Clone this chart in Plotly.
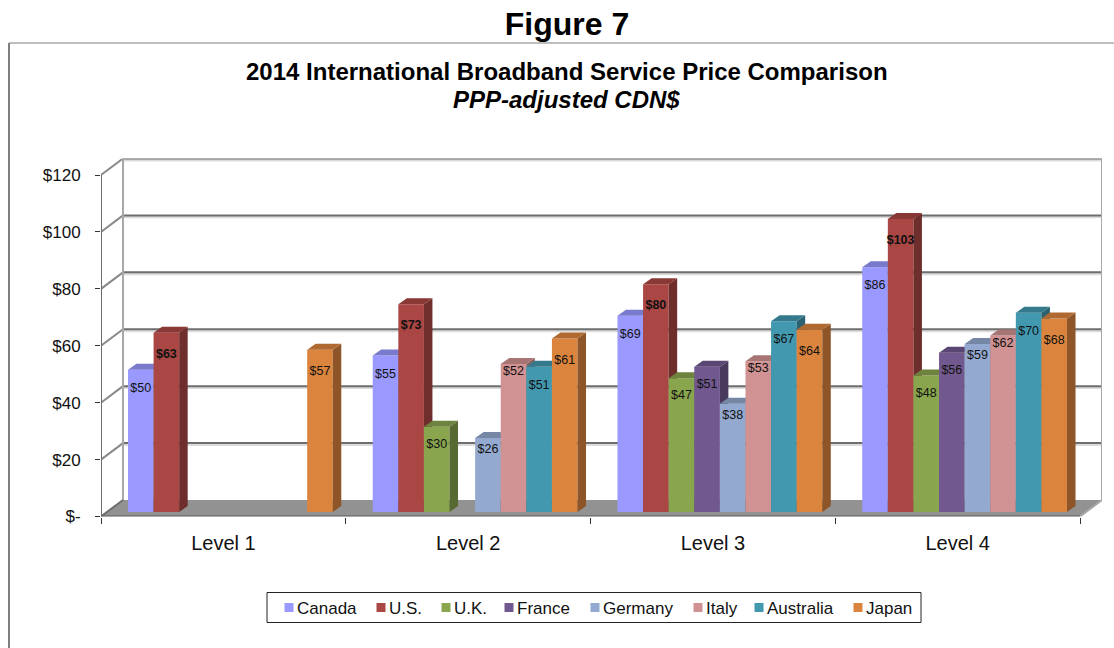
import plotly.graph_objects as go

# ---- data ----
levels = ["Level 1", "Level 2", "Level 3", "Level 4"]
canada = [50, 55, 69, 86]
us = [63, 73, 80, 103]
uk = [None, 30, 47, 48]
france = [None, None, 51, 56]
germany = [None, 26, 38, 59]
italy = [None, 52, 53, 62]
australia = [None, 51, 67, 70]
japan = [57, 61, 64, 68]
series_names = ["Canada", "U.S.", "U.K.", "France", "Germany", "Italy", "Australia", "Japan"]
series_values = [canada, us, uk, france, germany, italy, australia, japan]
y_ticks = [0, 20, 40, 60, 80, 100, 120]
y_labels = ["$-", "$20", "$40", "$60", "$80", "$100", "$120"]

# ---- style ----
front = ["#9999FF", "#AA4643", "#89A54E", "#71588F", "#94A9CF", "#D09292", "#4198AF", "#DB843D"]
top_c = ["#7A7ACC", "#8A3836", "#6E843E", "#5A4672", "#7687A6", "#A87575", "#347A8C", "#B06A31"]
side_c = ["#62629F", "#6E2E2C", "#586A32", "#49395D", "#606E86", "#875F5F", "#2A6272", "#8E5628"]
label_drop = [19, 22, 18, 18, 12, 8, 19, 22]   # px below bar top
legend_marker_px = [289, 381, 446, 509, 595, 698, 759, 858]

W, H = 1114, 648
X0, X1, Y0, Y1 = 101, 1080, 516.5, 175     # front axis box
DX_BACK, DY_BACK = 22, 16.5                # depth of chart box
CAT = (X1 - X0) / 4
UNIT = (Y0 - Y1) / 120
bar_w = 25.6 / CAT
bar_shift = 7 / CAT
bar_base = 4.5 / UNIT
bar_dx = 8.5 / CAT
bar_dy = 6 / UNIT
bdx, bdy = DX_BACK / CAT, DY_BACK / UNIT
xmin, xmax = -0.5, 3.5
FONT = "Liberation Sans, Arial, sans-serif"
DARK = "#6e6e6e"

fig = go.Figure()
for j, (name, vals) in enumerate(zip(series_names, series_values)):
    xs = [i + bar_shift + (j - 3.5) * bar_w for i in range(4)]
    fig.add_trace(go.Bar(
        x=xs, y=vals, base=bar_base, width=bar_w, name=name,
        marker=dict(color=front[j], line=dict(width=0)),
        showlegend=False, zorder=3 * j,
    ))
    sx, sy, tx, ty = [], [], [], []
    lx, ly, lt = [], [], []
    for x, v in zip(xs, vals):
        if v is None:
            continue
        l, r = x - bar_w / 2, x + bar_w / 2
        t = v + bar_base
        sx += [r, r + bar_dx, r + bar_dx, r, r, None]
        sy += [bar_base, bar_base + bar_dy, t + bar_dy, t, bar_base, None]
        tx += [l, l + bar_dx, r + bar_dx, r, l, None]
        ty += [t, t + bar_dy, t + bar_dy, t, t, None]
        lx.append(x)
        ly.append(t - label_drop[j] / UNIT)
        lt.append(f"<b>${v}</b>" if name == "U.S." else f"${v}")
    for px_, py_, c in ((sx, sy, side_c[j]), (tx, ty, top_c[j])):
        fig.add_trace(go.Scatter(
            x=px_, y=py_, mode="lines", fill="toself", fillcolor=c,
            line=dict(width=0, color=c), hoverinfo="skip", showlegend=False,
            zorder=3 * j + 1,
        ))
    fig.add_trace(go.Scatter(
        x=lx, y=ly, mode="text", text=lt, textposition="middle center",
        textfont=dict(family=FONT, size=12.5, color="#111111"),
        hoverinfo="skip", showlegend=False, zorder=100,
    ))

shapes = []
def line(x0, y0, x1, y1, color=DARK, width=2):
    shapes.append(dict(type="line", xref="x", yref="y", x0=x0, y0=y0, x1=x1, y1=y1,
                       layer="below", line=dict(color=color, width=width)))

# floor
shapes.append(dict(type="path", xref="x", yref="y", layer="below", line=dict(width=0),
                   fillcolor="#929292",
                   path=f"M {xmin},0 L {xmin+bdx},{bdy} L {xmax+bdx},{bdy} L {xmax},0 Z"))
# walls & gridlines
for v in y_ticks[1:]:
    line(xmin + bdx, v + bdy - 0.5, xmax + bdx, v + bdy - 0.5, "#dcdcdc", 3)
    line(xmin, v, xmin + bdx, v + bdy, "#8a8a8a", 2)
    line(xmin + bdx, v + bdy, xmax + bdx, v + bdy, DARK, 2)
line(xmin + bdx, bdy, xmin + bdx, 120 + bdy, "#a8a8a8", 2)
line(xmax + bdx, 0 + bdy, xmax + bdx, 120 + bdy, "#a8a8a8", 2)
line(xmin, 0, xmin + bdx, bdy, DARK, 2)
line(xmax, 0, xmax + bdx, bdy, "#a8a8a8", 2)
line(xmin, 0, xmin, 120, DARK, 2)
line(xmin, 0, xmax, 0, DARK, 2.5)

# frame
def paper(x, y):
    return x / W, 1 - y / H
fx0, fy0 = paper(9, 43)
fx1, fy1 = paper(W, H)
shapes.append(dict(type="line", xref="paper", yref="paper", x0=fx0, y0=fy0, x1=fx0, y1=fy1,
                   line=dict(color="#7f7f7f", width=2)))
shapes.append(dict(type="line", xref="paper", yref="paper", x0=fx0, y0=fy0, x1=fx1, y1=fy0,
                   line=dict(color="#7f7f7f", width=1)))
# legend box and keys
lx0, ly0 = paper(267, 592.5)
lx1, ly1 = paper(921, 622.5)
shapes.append(dict(type="rect", xref="paper", yref="paper", x0=lx0, y0=ly0, x1=lx1, y1=ly1,
                   fillcolor="white", line=dict(color="#222222", width=1)))
ann = []
for name, c, mx in zip(series_names, front, legend_marker_px):
    a0, b0 = paper(mx - 4.5, 603)
    a1, b1 = paper(mx + 4.5, 612)
    shapes.append(dict(type="rect", xref="paper", yref="paper", x0=a0, y0=b0, x1=a1, y1=b1,
                       fillcolor=c, line=dict(width=0)))
    ax, ay = paper(mx + 9, 608)
    ann.append(dict(xref="paper", yref="paper", x=ax, y=ay, text=name, showarrow=False,
                    xanchor="left", yanchor="middle", xshift=-3,
                    font=dict(family=FONT, size=17, color="#111111")))
for txt, y, size in (("<b>2014 International Broadband Service Price Comparison</b>", 71, 24),
                     ("<b><i>PPP-adjusted CDN$</i></b>", 99, 24)):
    ax, ay = paper(566.5, y)
    ann.append(dict(xref="paper", yref="paper", x=ax, y=ay, text=txt, showarrow=False,
                    xanchor="center", yanchor="middle",
                    font=dict(family=FONT, size=size, color="#000000")))

fig.update_layout(
    width=W, height=H, margin=dict(l=0, r=0, t=0, b=0, autoexpand=False),
    paper_bgcolor="white", plot_bgcolor="white", barmode="overlay",
    showlegend=False, shapes=shapes, annotations=ann,
    title=dict(text="<b>Figure 7</b>", x=567 / W, xanchor="center", y=1 - 24 / H, yanchor="middle",
               font=dict(family=FONT, size=32, color="#000000")),
    xaxis=dict(domain=[X0 / W, (X1 + DX_BACK) / W], range=[xmin, xmax + bdx],
               tickmode="array", tickvals=list(range(4)), ticktext=levels,
               showgrid=False, zeroline=False, showline=False, ticks="", ticklabelstandoff=12,
               tickfont=dict(family=FONT, size=20, color="#111111"),
               minor=dict(tickmode="array", tickvals=[-0.5, 0.5, 1.5, 2.5, 3.5], ticks="outside",
                          ticklen=6, tickcolor="#333333", tickwidth=1, showgrid=False)),
    yaxis=dict(domain=[1 - Y0 / H, 1 - (Y1 - DY_BACK) / H], range=[0, 120 + bdy],
               tickmode="array", tickvals=y_ticks, ticktext=y_labels,
               showgrid=False, zeroline=False, showline=False, ticklabelstandoff=11,
               ticks="outside", ticklen=5, tickcolor="#333333", tickwidth=1,
               tickfont=dict(family=FONT, size=17, color="#111111")),
)
fig.write_html("out.html", config={"displayModeBar": False},
               post_script="document.body.style.margin='0';")
